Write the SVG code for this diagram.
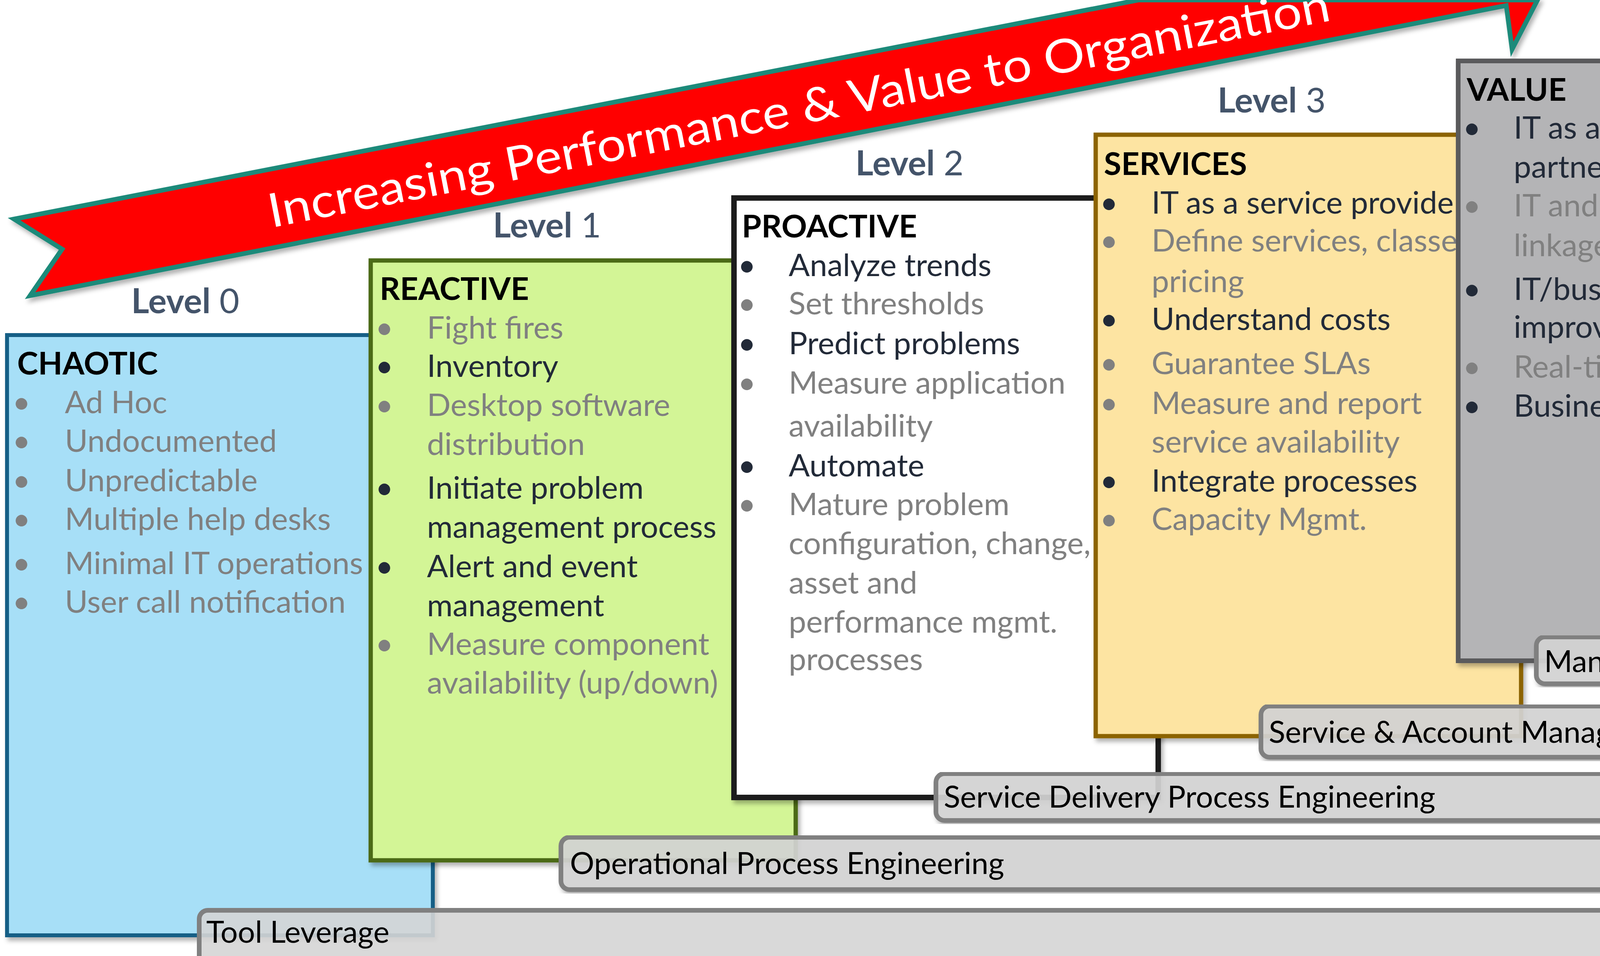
<svg xmlns="http://www.w3.org/2000/svg" width="4969" height="2448" viewBox="0 0 4969 2448" style="overflow:hidden">
<defs>
<clipPath id="page"><rect x="0" y="0" width="4969" height="2448"/></clipPath>
<filter id="sh" x="-3%" y="-3%" width="108%" height="110%">
<feDropShadow dx="6" dy="9" stdDeviation="6" flood-color="#000" flood-opacity="0.3"/>
</filter>
<style>
text{font-family:Lato,"Open Sans","Liberation Sans",sans-serif;}
.d{fill:#222a38;font-size:80px;}
.g{fill:#808080;font-size:80px;}
.t{fill:#000;font-size:81px;font-weight:bold;}
.lv{fill:#44546a;font-size:88px;}
.lv tspan.b{font-weight:bold;}
.bl{fill:#000;font-size:78px;}
.bar{fill:#d5d5d5;fill-opacity:0.9;stroke:#808080;stroke-width:12;}
.bu{text-anchor:middle;}
</style>
</defs>
<rect width="4969" height="2448" fill="#fff"/>
<g clip-path="url(#page)">

<g id="banner">
<polygon points="36,561 2914,0 3936,0 3871,126 3856,14 77,757 159,638" fill="#ff0000" stroke="#1b8a7a" stroke-width="12" stroke-linejoin="miter" filter="url(#sh)"/>
<text transform="translate(695 583) rotate(-11.06)" x="0" y="0" fill="#fff" font-size="120" textLength="2767" lengthAdjust="spacingAndGlyphs">Increasing Performance &amp; Value to Organization</text>
</g>

<g id="level-labels">
<text class="lv" x="336" y="802"><tspan class="b">Level</tspan> 0</text>
<text class="lv" x="1262" y="608"><tspan class="b">Level</tspan> 1</text>
<text class="lv" x="2190" y="449"><tspan class="b">Level</tspan> 2</text>
<text class="lv" x="3117" y="288"><tspan class="b">Level</tspan> 3</text>
<text class="lv" x="4125" y="96"><tspan class="b">Level</tspan> 4</text>
</g>

<g id="chaotic">
<rect x="18" y="858" width="1090" height="1537" fill="#a7dff7" stroke="#135e86" stroke-width="10" filter="url(#sh)"/>
<text class="t" x="44" y="959">CHAOTIC</text>
<text class="g bu" x="55" y="1058">•</text><text class="g" x="166" y="1058">Ad Hoc</text>
<text class="g bu" x="55" y="1157">•</text><text class="g" x="166" y="1157">Undocumented</text>
<text class="g bu" x="55" y="1258">•</text><text class="g" x="166" y="1258">Unpredictable</text>
<text class="g bu" x="55" y="1357">•</text><text class="g" x="166" y="1357">Multiple help desks</text>
<text class="g bu" x="55" y="1470">•</text><text class="g" x="166" y="1470">Minimal IT operations</text>
<text class="g bu" x="55" y="1569">•</text><text class="g" x="166" y="1569">User call notification</text>
</g>

<g id="reactive">
<rect x="949" y="667" width="1088" height="1536" fill="#d3f596" stroke="#4c6a12" stroke-width="11" filter="url(#sh)"/>
<text class="t" x="972" y="768">REACTIVE</text>
<text class="g bu" x="984" y="867">•</text><text class="g" x="1093" y="867">Fight fires</text>
<text class="d bu" x="984" y="965">•</text><text class="d" x="1093" y="965">Inventory</text>
<text class="g bu" x="984" y="1065">•</text><text class="g" x="1093" y="1065">Desktop software</text>
<text class="g" x="1093" y="1165">distribution</text>
<text class="d bu" x="984" y="1277">•</text><text class="d" x="1093" y="1277">Initiate problem</text>
<text class="d" x="1093" y="1377">management process</text>
<text class="d bu" x="984" y="1478">•</text><text class="d" x="1093" y="1478">Alert and event</text>
<text class="d" x="1093" y="1578">management</text>
<text class="g bu" x="984" y="1677">•</text><text class="g" x="1093" y="1677">Measure component</text>
<text class="g" x="1093" y="1776">availability (up/down)</text>
</g>

<g id="proactive">
<rect x="1879" y="507" width="1086" height="1535" fill="#ffffff" stroke="#1a1a1a" stroke-width="14" filter="url(#sh)"/>
<text class="t" x="1899" y="608">PROACTIVE</text>
<text class="d bu" x="1912" y="707">•</text><text class="d" x="2019" y="707">Analyze trends</text>
<text class="g bu" x="1912" y="805">•</text><text class="g" x="2019" y="805">Set thresholds</text>
<text class="d bu" x="1912" y="907">•</text><text class="d" x="2019" y="907">Predict problems</text>
<text class="g bu" x="1912" y="1008">•</text><text class="g" x="2019" y="1008">Measure application</text>
<text class="g" x="2019" y="1118">availability</text>
<text class="d bu" x="1912" y="1220">•</text><text class="d" x="2019" y="1220">Automate</text>
<text class="g bu" x="1912" y="1319">•</text><text class="g" x="2019" y="1319">Mature problem</text>
<text class="g" x="2019" y="1419">configuration, change,</text>
<text class="g" x="2019" y="1520">asset and</text>
<text class="g" x="2019" y="1620">performance mgmt.</text>
<text class="g" x="2019" y="1716">processes</text>
</g>

<g id="services">
<rect x="2805" y="345" width="1089" height="1540" fill="#fde4a2" stroke="#8c6400" stroke-width="11" filter="url(#sh)"/>
<text class="t" x="2826" y="448">SERVICES</text>
<text class="d bu" x="2839" y="547">•</text><text class="d" x="2948" y="547">IT as a service provider</text>
<text class="g bu" x="2839" y="644">•</text><text class="g" x="2948" y="644">Define services, classes,</text>
<text class="g" x="2948" y="748">pricing</text>
<text class="d bu" x="2839" y="845">•</text><text class="d" x="2948" y="845">Understand costs</text>
<text class="g bu" x="2839" y="958">•</text><text class="g" x="2948" y="958">Guarantee SLAs</text>
<text class="g bu" x="2839" y="1060">•</text><text class="g" x="2948" y="1060">Measure and report</text>
<text class="g" x="2948" y="1159">service availability</text>
<text class="d bu" x="2839" y="1259">•</text><text class="d" x="2948" y="1259">Integrate processes</text>
<text class="g bu" x="2839" y="1357">•</text><text class="g" x="2948" y="1357">Capacity Mgmt.</text>
</g>

<g id="value">
<rect x="3733" y="156" width="1088" height="1536" fill="#b4b4b6" stroke="#5a5a5c" stroke-width="12" filter="url(#sh)"/>
<text class="t" x="3755" y="258">VALUE</text>
<text class="d bu" x="3768" y="355">•</text><text class="d" x="3875" y="355">IT as a strategic business</text>
<text class="d" x="3875" y="455">partner</text>
<text class="g bu" x="3768" y="554">•</text><text class="g" x="3875" y="554">IT and business metric</text>
<text class="g" x="3875" y="656">linkage</text>
<text class="d bu" x="3768" y="768">•</text><text class="d" x="3875" y="768">IT/business collaboration</text>
<text class="d" x="3875" y="865">improves business process</text>
<text class="g bu" x="3768" y="967">•</text><text class="g" x="3875" y="967">Real-time infrastructure</text>
<text class="d bu" x="3768" y="1067">•</text><text class="d" x="3875" y="1067">Business planning</text>
</g>

<g id="bar-tool-leverage">
<rect class="bar" x="510" y="2331" width="4446" height="150" rx="22"/>
<text class="bl" x="528" y="2414">Tool Leverage</text>
</g>
<g id="bar-operational">
<rect class="bar" x="1436" y="2144" width="3520" height="134" rx="22" filter="url(#sh)"/>
<text class="bl" x="1459" y="2238">Operational Process Engineering</text>
</g>
<g id="bar-service-delivery">
<rect class="bar" x="2396" y="1981" width="3560" height="120" rx="22" filter="url(#sh)"/>
<text class="bl" x="2416" y="2068">Service Delivery Process Engineering</text>
</g>
<g id="bar-service-account">
<rect class="bar" x="3228" y="1808" width="1728" height="131" rx="22" filter="url(#sh)"/>
<text class="bl" x="3248" y="1902">Service &amp; Account Management</text>
</g>
<g id="bar-manage-it">
<rect class="bar" x="3933" y="1631" width="1023" height="120" rx="22" filter="url(#sh)"/>
<text class="bl" x="3953" y="1721">Manage IT as a Business</text>
</g>

<g id="connectors"></g>
</g>
</svg>
